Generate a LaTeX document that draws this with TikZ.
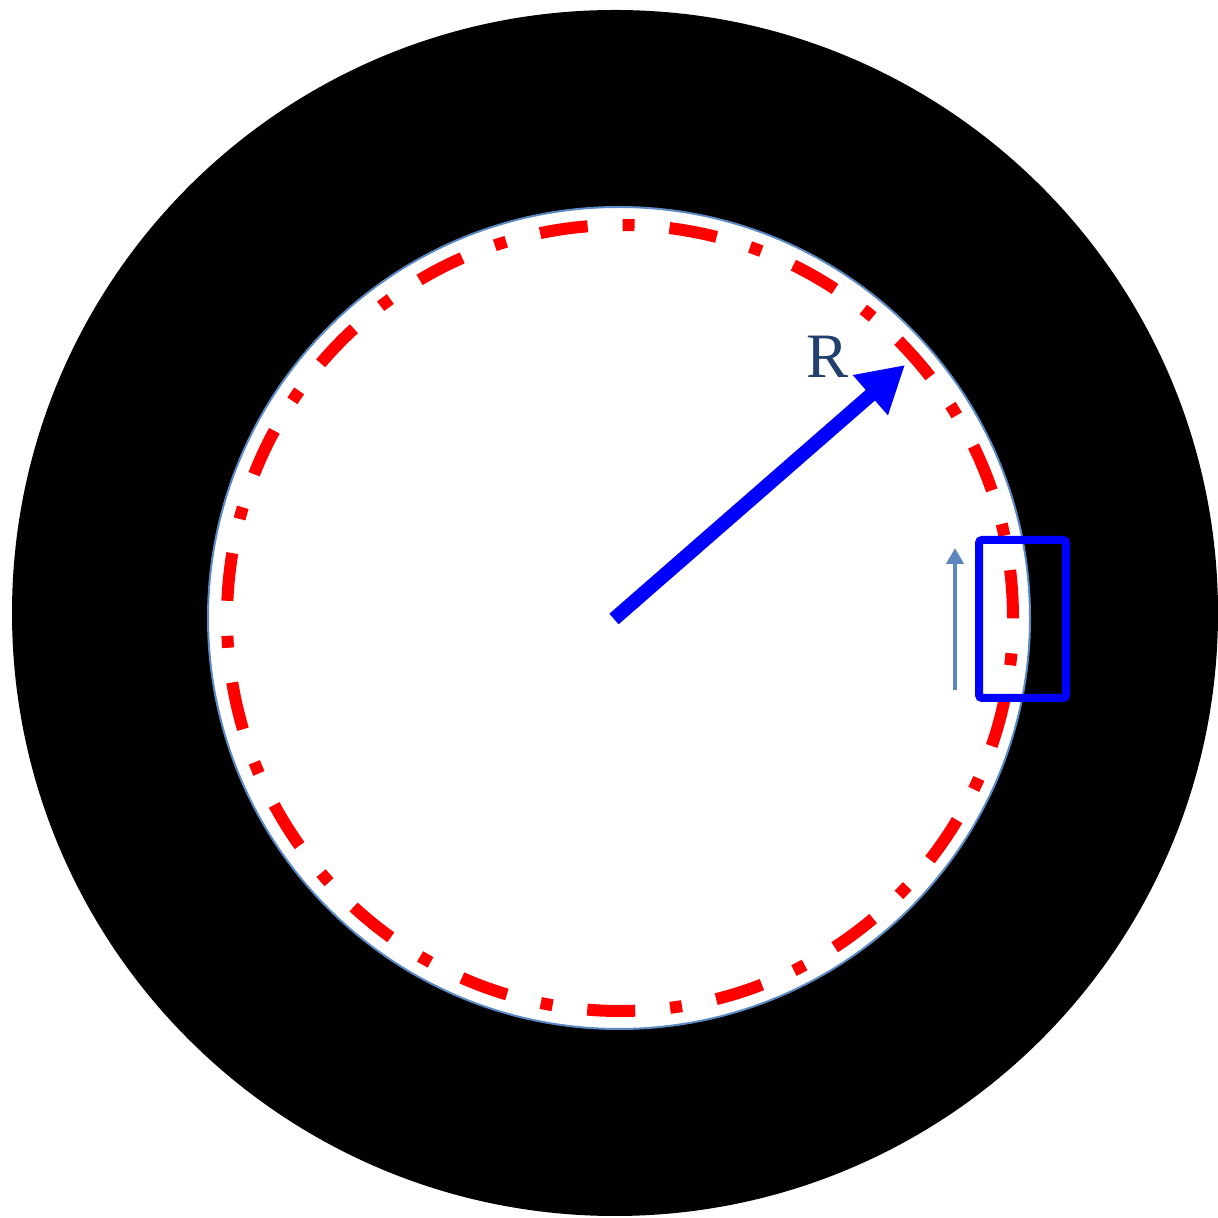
\documentclass[tikz,border=0pt]{standalone}
\usepackage{fontspec}
\usepackage{tikz}
\usetikzlibrary{arrows.meta,positioning}
\newfontfamily\labelfont{Liberation Serif}
\definecolor{ringblack}{HTML}{000000}
\definecolor{rimblue}{HTML}{5A89C4}
\definecolor{dashred}{HTML}{FF0000}
\definecolor{radblue}{HTML}{0000FF}
\definecolor{labelblue}{HTML}{22406E}
\definecolor{flowblue}{HTML}{5B86BE}

\begin{document}
\begin{tikzpicture}[
    radarrow/.style={radblue,line width=0.14cm,-{Triangle[length=0.46cm,width=0.50cm]}},
    flowarrow/.style={flowblue,line width=0.045cm,-{Triangle[length=0.16cm,width=0.17cm]}},
    probebox/.style={radblue,line width=0.08cm,rounded corners=0.03cm}]
  \useasboundingbox (0,0) rectangle (12.17,12.18);
  % outer ring and bore
  \fill[ringblack] (6.15,6.05) circle (6.03);
  \fill[white] (6.19,6.00) circle (4.11);
  \draw[rimblue,line width=0.02cm] (6.19,6.00) circle (4.11);
  % dash-dot reference circle
  \draw[dashred,line width=0.12cm,dash pattern=on 0.48cm off 0.35cm on 0.12cm off 0.3496cm] (6.20,6.00) circle (3.93);
  % radius
  \coordinate (centre) at (6.14,5.99);
  \coordinate (rtip) at (9.05,8.53);
  \draw[radarrow] (centre) -- (rtip);
  \node[labelblue,font=\labelfont\fontsize{18}{20}\selectfont] (rlabel) at (8.28,8.61) {R};
  % flow direction and window
  \coordinate (flowfrom) at (9.55,5.28);
  \coordinate (flowto) at (9.55,6.70);
  \draw[flowarrow] (flowfrom) -- (flowto);
  \draw[probebox] (9.79,5.20) rectangle (10.66,6.78);
\end{tikzpicture}
\end{document}
